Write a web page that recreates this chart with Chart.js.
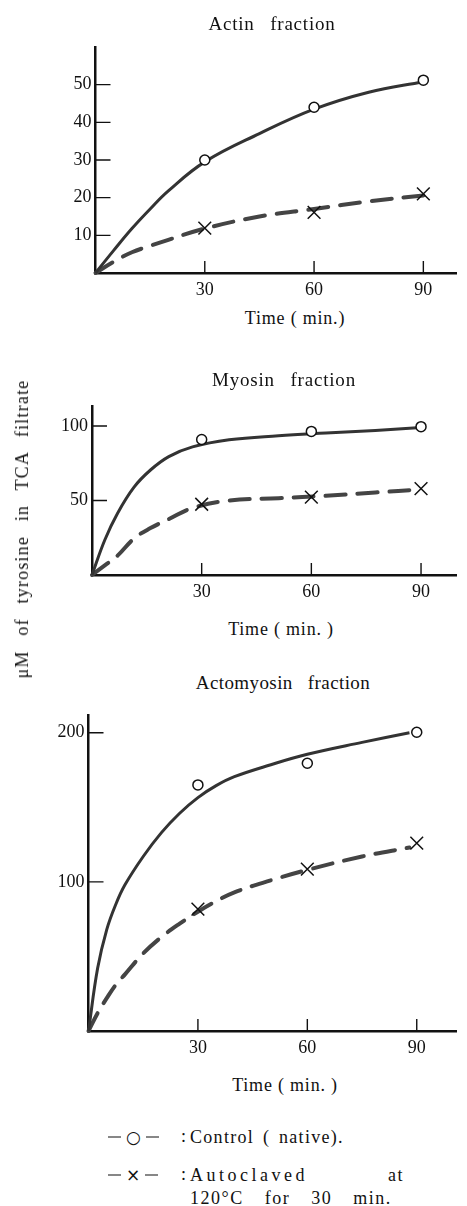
<!DOCTYPE html>
<html>
<head>
<meta charset="utf-8">
<script src="https://cdn.jsdelivr.net/npm/chart.js@4"></script>
<style>
  html, body { margin: 0; padding: 0; background: #fff; }
  #page { position: relative; width: 467px; height: 1206px; overflow: hidden; background: #fff; color: #111;
          font-family: 'Liberation Serif', 'DejaVu Serif', serif; }
  canvas { position: absolute; left: 0; display: block; }
  .lbl { position: absolute; white-space: pre; transform: translate(-50%, -50%); line-height: 1; }
  .title { font-size: 19px; letter-spacing: 0.8px; word-spacing: 10px; }
  .time { font-size: 18px; letter-spacing: 0.8px; }
  #ylab { position: absolute; left: 22px; top: 529px; white-space: pre; font-size: 18px; letter-spacing: 1.2px;
          word-spacing: 9px; transform: translate(-50%, -50%) rotate(-90deg); line-height: 1; }
  .leg { position: absolute; white-space: pre; font-size: 18px; line-height: 1; transform: translateY(-50%); }
  .sym { display: flex; align-items: center; gap: 5px; font-family: 'DejaVu Sans', sans-serif; }
  .sym .d { display: inline-block; width: 13px; height: 0; border-top: 1.4px solid #111; }
  .sym .c { font-size: 17px; line-height: 1; }
</style>
</head>
<body>
<div id="page">
  <canvas id="cActin" width="467" height="300" style="top:0px"></canvas>
  <canvas id="cMyosin" width="467" height="275" style="top:330px"></canvas>
  <canvas id="cActo" width="467" height="360" style="top:700px"></canvas>

  <div class="lbl title" style="left:272px; top:23px">Actin fraction</div>
  <div class="lbl time" style="left:295px; top:318px">Time ( min.)</div>
  <div class="lbl title" style="left:284px; top:379px">Myosin fraction</div>
  <div class="lbl time" style="left:281px; top:629px">Time ( min. )</div>
  <div class="lbl title" style="left:283px; top:682px; letter-spacing:0.4px">Actomyosin fraction</div>
  <div class="lbl time" style="left:285px; top:1085px">Time ( min. )</div>

  <div id="ylab">μM of tyrosine in TCA filtrate</div>

  <div class="leg sym" style="left:108px; top:1137px"><span class="d"></span><span class="c">○</span><span class="d"></span></div>
  <div class="leg" style="left:181px; top:1136px">:</div>
  <div class="leg" style="left:190px; top:1137px; letter-spacing:1.3px; word-spacing:3px">Control ( native).</div>
  <div class="leg sym" style="left:108px; top:1175px"><span class="d"></span><span class="c">×</span><span class="d"></span></div>
  <div class="leg" style="left:181px; top:1174px">:</div>
  <div class="leg" style="left:190px; top:1175px; letter-spacing:3.5px">Autoclaved</div>
  <div class="leg" style="left:388px; top:1175px; letter-spacing:1.5px">at</div>
  <div class="leg" style="left:190px; top:1198px; letter-spacing:1.5px; word-spacing:15px">120°C for 30 min.</div>
</div>
<script>
// time axis (min.)
const tickTimes = [30, 60, 90];
const sampleTimes = [30, 60, 90];

// Actin fraction
const actinYTicks = [10, 20, 30, 40, 50];
const actinControl = [30, 44, 51.2];
const actinAutoclaved = [11.9, 16.1, 21];
const actinCurveTimes = [0, 5, 10, 15, 20, 30, 45, 60, 75, 90];
const actinControlCurve = [0, 6, 11.8, 17, 21.8, 29.5, 37, 43.5, 48, 50.8];
const actinAutoclavedCurve = [0, 3, 5.5, 7.2, 8.8, 11.8, 15, 17, 19, 20.6];

// Myosin fraction
const myosinYTicks = [50, 100];
const myosinControl = [91, 96.4, 99.6];
const myosinAutoclaved = [47.5, 52.3, 58];
const myosinCurveTimes = [0, 3.5, 7, 11.5, 16, 21, 27.5, 37.5, 51, 64, 77.5, 90];
const myosinControlCurve = [0, 23.5, 41.5, 59, 70.5, 79.5, 86, 90.8, 93.5, 95.3, 97, 99];
const myosinAutoclavedCurve = [0, 6.5, 13, 24.5, 31.5, 37.5, 45, 50, 51.6, 53.2, 55.4, 57.5];

// Actomyosin fraction
const actoYTicks = [100, 200];
const actoControl = [165, 179.5, 200.3];
const actoAutoclaved = [81.7, 108.5, 126];
const actoCurveTimes = [0, 2.5, 5, 7.5, 10, 15, 20, 25, 30, 35, 40, 50, 60, 75, 88];
const actoControlCurve = [0, 42, 68, 85, 98, 117, 133, 146, 156.5, 164.5, 170.5, 178.5, 185.5, 193.5, 200];
const actoAutoclavedCurve = [0, 12, 22, 31, 38, 52, 63, 72, 80, 87, 93, 101, 108, 117, 123];

const INK = '#111';

// tick marks point into the plot, so they are drawn here
const inwardTicks = {
  id: 'inwardTicks',
  afterDraw(chart) {
    const { ctx, chartArea } = chart;
    const x = chart.scales.x, y = chart.scales.y;
    ctx.save();
    ctx.strokeStyle = INK;
    ctx.lineWidth = 1.4;
    ctx.beginPath();
    x.ticks.forEach(t => {
      const px = x.getPixelForValue(t.value);
      ctx.moveTo(px, chartArea.bottom);
      ctx.lineTo(px, chartArea.bottom - 12);
    });
    y.ticks.forEach(t => {
      const py = y.getPixelForValue(t.value);
      ctx.moveTo(chartArea.left, py);
      ctx.lineTo(chartArea.left + 15, py);
    });
    ctx.stroke();
    ctx.restore();
  }
};

function pts(xs, ys) {
  return xs.map((v, i) => ({ x: v, y: ys[i] }));
}

function drawPanel(id, p) {
  const tickFont = { family: 'Liberation Serif', size: 18 };
  new Chart(document.getElementById(id), {
    type: 'line',
    data: {
      datasets: [
        { data: pts(sampleTimes, p.control), showLine: false, pointStyle: 'circle', pointRadius: 5,
          pointBorderWidth: 1.5, pointBorderColor: INK, pointBackgroundColor: '#fff', clip: false },
        { data: pts(sampleTimes, p.autoclaved), showLine: false, pointStyle: 'crossRot', pointRadius: 9,
          pointBorderWidth: 1.5, pointBorderColor: INK, pointBackgroundColor: INK, clip: false },
        { data: pts(p.curveTimes, p.controlCurve), borderColor: '#333', borderWidth: 3, pointRadius: 0,
          tension: 0.4, fill: false, clip: false },
        { data: pts(p.curveTimes, p.autoclavedCurve), borderColor: '#444', borderWidth: 4, pointRadius: 0,
          borderDash: [20, 12], borderCapStyle: 'round', tension: 0.4, fill: false, clip: false }
      ]
    },
    options: {
      responsive: false,
      animation: false,
      devicePixelRatio: 1,
      layout: { padding: { top: p.padTop, right: 0, bottom: 0, left: 0 } },
      plugins: { legend: { display: false }, tooltip: { enabled: false } },
      scales: {
        x: {
          type: 'linear', min: 0, max: p.xMax,
          afterBuildTicks: s => { s.ticks = tickTimes.map(v => ({ value: v })); },
          afterFit: s => { s.height = p.xAxisHeight; },
          grid: { display: false, drawTicks: false },
          border: { display: true, color: INK, width: 2.5 },
          ticks: { color: INK, font: tickFont, padding: 6, maxRotation: 0, autoSkip: false }
        },
        y: {
          type: 'linear', min: 0, max: p.yMax,
          afterBuildTicks: s => { s.ticks = p.yTicks.map(v => ({ value: v })); },
          afterFit: s => { s.width = p.left; },
          grid: { display: false, drawTicks: false },
          border: { display: true, color: INK, width: 2.5 },
          ticks: { color: INK, font: tickFont, padding: 4 }
        }
      }
    },
    plugins: [inwardTicks]
  });
}

drawPanel('cActin', {
  control: actinControl, autoclaved: actinAutoclaved, curveTimes: actinCurveTimes,
  controlCurve: actinControlCurve, autoclavedCurve: actinAutoclavedCurve, yTicks: actinYTicks,
  yMax: 60, xMax: 99.1, left: 95.5, padTop: 47, xAxisHeight: 27
});
drawPanel('cMyosin', {
  control: myosinControl, autoclaved: myosinAutoclaved, curveTimes: myosinCurveTimes,
  controlCurve: myosinControlCurve, autoclavedCurve: myosinAutoclavedCurve, yTicks: myosinYTicks,
  yMax: 113, xMax: 99.7, left: 92, padTop: 76.7, xAxisHeight: 30
});
drawPanel('cActo', {
  control: actoControl, autoclaved: actoAutoclaved, curveTimes: actoCurveTimes,
  controlCurve: actoControlCurve, autoclavedCurve: actoAutoclavedCurve, yTicks: actoYTicks,
  yMax: 212, xMax: 100.9, left: 88.5, padTop: 11.7, xAxisHeight: 29
});
</script>
</body>
</html>
